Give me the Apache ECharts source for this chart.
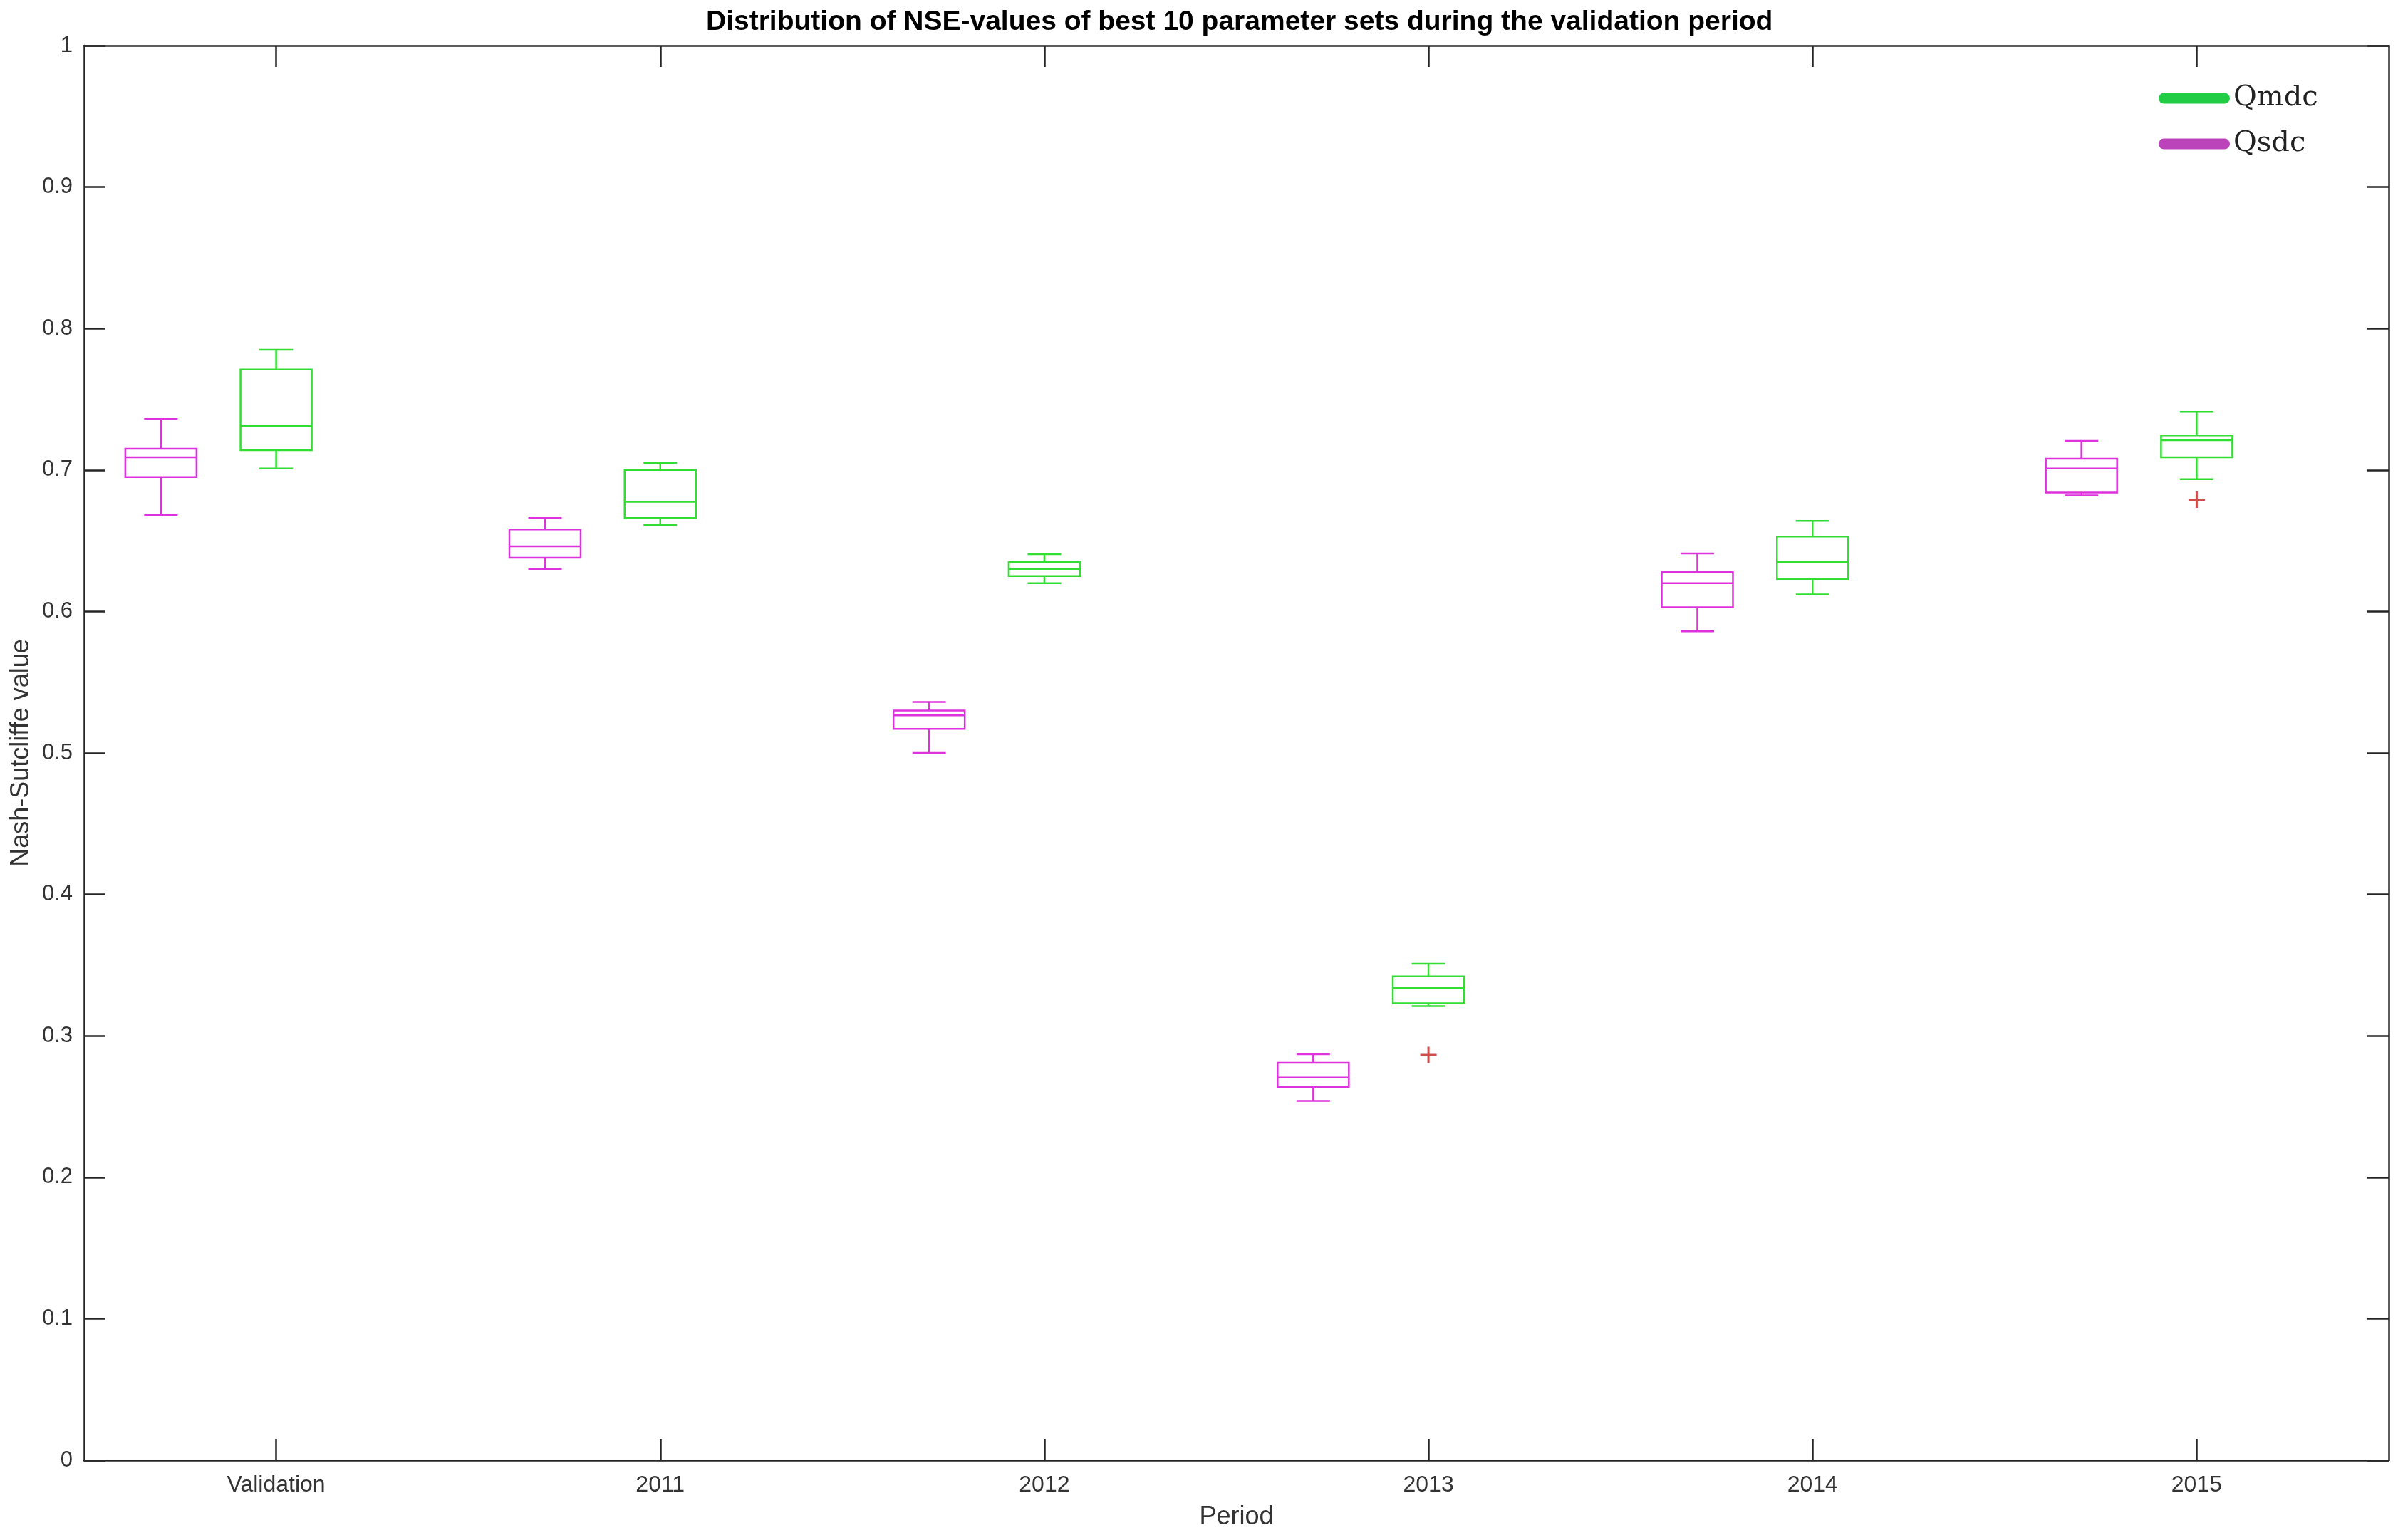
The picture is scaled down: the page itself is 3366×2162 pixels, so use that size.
<!DOCTYPE html>
<html>
<head>
<meta charset="utf-8">
<script src="https://cdn.jsdelivr.net/npm/echarts@6/dist/echarts.min.js"></script>
<style>html,body{margin:0;padding:0;background:#fff;}#c{width:3366px;height:2162px;}</style>
</head>
<body>
<div id="c"></div>
<script>
// ---- data ----
const categories = ['Validation', '2011', '2012', '2013', '2014', '2015'];
const yTicks = [0, 0.1, 0.2, 0.3, 0.4, 0.5, 0.6, 0.7, 0.8, 0.9, 1];

// Qsdc (magenta)
const qsdcMin = [0.668, 0.630, 0.500, 0.254, 0.586, 0.682];
const qsdcQ1  = [0.695, 0.638, 0.517, 0.264, 0.603, 0.684];
const qsdcMed = [0.709, 0.646, 0.5265, 0.2705, 0.620, 0.701];
const qsdcQ3  = [0.715, 0.658, 0.530, 0.281, 0.628, 0.708];
const qsdcMax = [0.736, 0.666, 0.536, 0.287, 0.641, 0.7205];

// Qmdc (green)
const qmdcMin = [0.701, 0.661, 0.620, 0.321, 0.612, 0.6935];
const qmdcQ1  = [0.714, 0.666, 0.625, 0.323, 0.623, 0.709];
const qmdcMed = [0.731, 0.6775, 0.630, 0.334, 0.635, 0.721];
const qmdcQ3  = [0.771, 0.700, 0.635, 0.342, 0.653, 0.7245];
const qmdcMax = [0.785, 0.705, 0.6405, 0.351, 0.664, 0.741];

// Qmdc outliers
const outlierCats = ['2013', '2015'];
const outlierVals = [0.2865, 0.679];

// ---- layout constants ----
const QSDC_SHIFT = -0.3;   // magenta boxes sit left of each category tick
const MAGENTA = '#dd33dd';
const GREEN = '#33dd33';
const AXIS = '#262626';

// ---- build series data ----
const qsdcBox = categories.map((c, i) => [i + QSDC_SHIFT, qsdcQ1[i], qsdcQ1[i], qsdcMed[i], qsdcQ3[i], qsdcQ3[i]]);
const qsdcWhisk = categories.map((c, i) => [i + QSDC_SHIFT, qsdcMin[i], qsdcMed[i], qsdcMed[i], qsdcMed[i], qsdcMax[i]]);
const qmdcBox = categories.map((c, i) => [qmdcQ1[i], qmdcQ1[i], qmdcMed[i], qmdcQ3[i], qmdcQ3[i]]);
const qmdcWhisk = categories.map((c, i) => [qmdcMin[i], qmdcMed[i], qmdcMed[i], qmdcMed[i], qmdcMax[i]]);
const outlierData = outlierCats.map((c, i) => [c, outlierVals[i]]);

const chart = echarts.init(document.getElementById('c'), null, {renderer: 'canvas'});
const legendIcon = 'path://M7.5,0 H92.5 A7.5,7.5 0 0 1 92.5,15 H7.5 A7.5,7.5 0 0 1 7.5,0 Z';
const plusIcon = 'path://M10,0 H13 V10 H23 V13 H13 V23 H10 V13 H0 V10 H10 Z';
const FONT = 'Liberation Sans, Arial, sans-serif';

const catAxisCommon = {
  type: 'category', data: categories, gridIndex: 0,
  axisLine: {show: true, onZero: false, lineStyle: {color: AXIS, width: 2.5}},
  axisTick: {show: true, inside: true, alignWithLabel: true, length: 30, lineStyle: {color: AXIS, width: 2.5}},
  splitLine: {show: false}
};
const hiddenVal = {type: 'value', min: -0.5, max: 5.5, show: false, gridIndex: 0, splitLine: {show: false}};
const yCommon = {
  type: 'value', min: 0, max: 1, interval: 0.1,
  axisLine: {show: true, onZero: false, lineStyle: {color: AXIS, width: 2.5}},
  axisTick: {show: true, inside: true, length: 30, lineStyle: {color: AXIS, width: 2.5}},
  splitLine: {show: false}
};

const option = {
  backgroundColor: '#fff',
  animation: false,
  title: {
    text: 'Distribution of NSE-values of best 10 parameter sets during the validation period',
    left: 986, top: 7,
    textStyle: {fontFamily: FONT, fontWeight: 'bold', fontSize: 39, color: '#000'}
  },
  legend: {
    orient: 'vertical', left: 3030, top: 117, padding: 0,
    itemWidth: 100, itemHeight: 15, itemGap: 22,
    textStyle: {fontFamily: 'DejaVu Serif, Liberation Serif, serif', fontSize: 40, color: '#222', lineHeight: 42},
    data: [
      {name: 'Qmdc', icon: legendIcon, itemStyle: {color: '#22cc44', borderWidth: 0}},
      {name: 'Qsdc', icon: legendIcon, itemStyle: {color: '#bb44bb', borderWidth: 0}}
    ]
  },
  grid: {left: 118, right: 13, top: 64, bottom: 112, containLabel: false},
  xAxis: [
    Object.assign({}, catAxisCommon, {
      position: 'bottom', name: 'Period', nameLocation: 'middle', nameGap: 62,
      nameTextStyle: {fontFamily: FONT, fontSize: 36, color: '#333'},
      axisLabel: {show: true, fontFamily: FONT, fontSize: 32, color: '#333', margin: 19}
    }),
    Object.assign({}, catAxisCommon, {position: 'top', axisLabel: {show: false}}),
    Object.assign({}, hiddenVal),
    Object.assign({}, hiddenVal)
  ],
  yAxis: [
    Object.assign({}, yCommon, {
      position: 'left', name: 'Nash-Sutcliffe value', nameLocation: 'middle', nameGap: 70,
      nameTextStyle: {fontFamily: FONT, fontSize: 36, color: '#333'},
      axisLabel: {show: true, fontFamily: FONT, fontSize: 31, color: '#333', margin: 16}
    }),
    Object.assign({}, yCommon, {position: 'right', axisLabel: {show: false}})
  ],
  series: [
    {
      name: 'Qsdc', type: 'boxplot', xAxisIndex: 2, yAxisIndex: 0, z: 2,
      boxWidth: [47, 47], data: qsdcWhisk,
      itemStyle: {color: '#fff', borderColor: MAGENTA, borderWidth: 2.5},
      emphasis: {disabled: true}, silent: true
    },
    {
      name: 'Qsdc', type: 'boxplot', xAxisIndex: 3, yAxisIndex: 0, z: 3,
      boxWidth: [100, 100], data: qsdcBox,
      itemStyle: {color: '#fff', borderColor: MAGENTA, borderWidth: 2.5},
      emphasis: {disabled: true}, silent: true
    },
    {
      name: 'Qmdc', type: 'boxplot', xAxisIndex: 0, yAxisIndex: 0, z: 2,
      boxWidth: [47, 47], data: qmdcWhisk,
      itemStyle: {color: '#fff', borderColor: GREEN, borderWidth: 2.5},
      emphasis: {disabled: true}, silent: true
    },
    {
      name: 'Qmdc', type: 'boxplot', xAxisIndex: 1, yAxisIndex: 0, z: 3,
      boxWidth: [100, 100], data: qmdcBox,
      itemStyle: {color: '#fff', borderColor: GREEN, borderWidth: 2.5},
      emphasis: {disabled: true}, silent: true
    },
    {
      name: 'Qmdc outliers', type: 'scatter', xAxisIndex: 0, yAxisIndex: 0, z: 4,
      symbol: plusIcon, symbolSize: 23, data: outlierData,
      itemStyle: {color: '#c02020'}, silent: true
    }
  ]
};
chart.setOption(option);
</script>
</body>
</html>
